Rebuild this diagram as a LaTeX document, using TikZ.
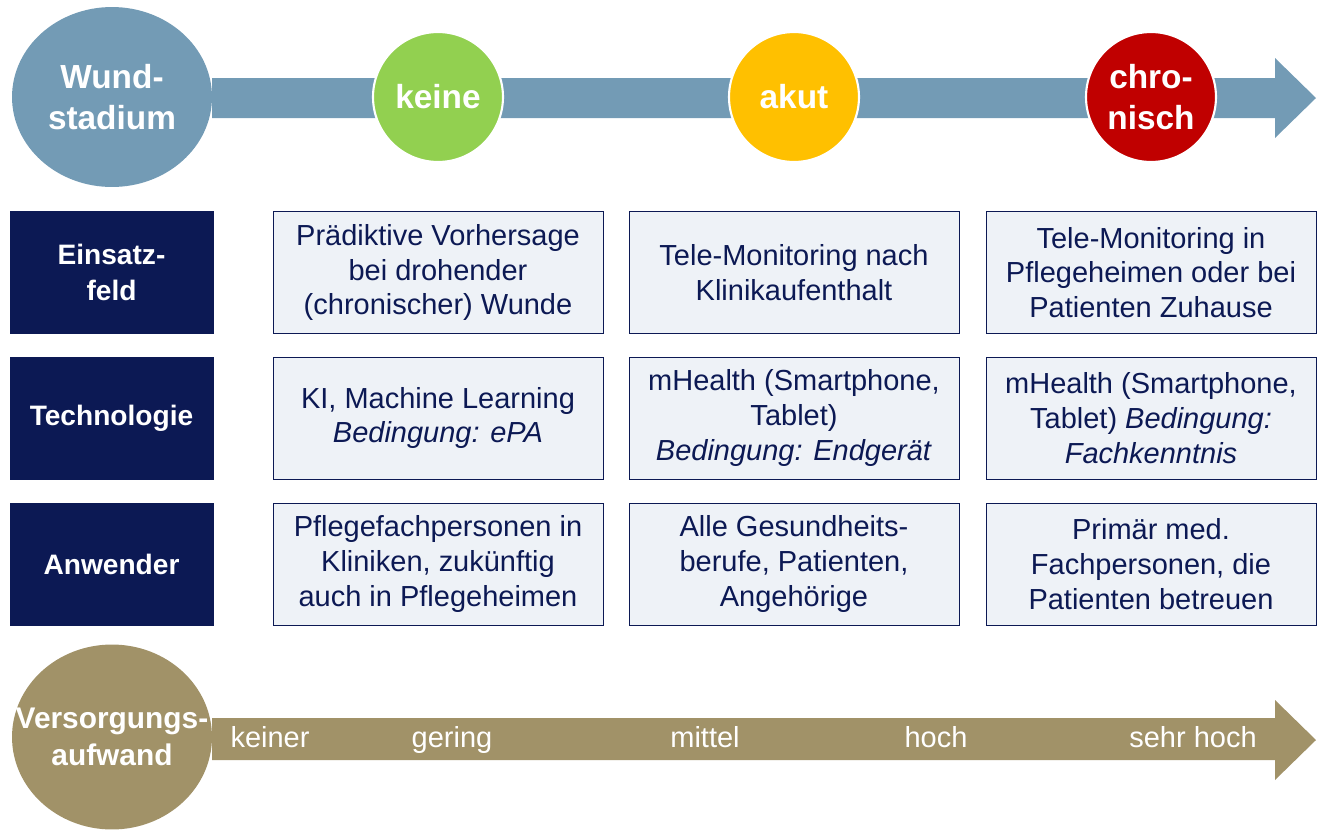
\documentclass[tikz,border=0pt]{standalone}
\usepackage{fontspec}
\setmainfont{Liberation Sans}
\usetikzlibrary{shapes.geometric}
\definecolor{stadium}{RGB}{115,155,181}
\definecolor{navy}{RGB}{12,25,84}
\definecolor{boxfill}{RGB}{238,242,247}
\definecolor{aufwand}{RGB}{161,146,104}
\definecolor{gruen}{RGB}{146,208,80}
\definecolor{gelb}{RGB}{255,192,0}
\definecolor{rot}{RGB}{192,0,0}
\tikzset{
  stage/.style={circle,draw=white,line width=1.2pt,minimum size=2.6cm,text=white,font=\fontsize{19}{23}\selectfont\bfseries,align=center,inner sep=0pt},
  rowhead/.style={draw=navy,fill=navy,minimum width=4.06cm,minimum height=2.44cm,text=white,font=\fontsize{16}{20}\selectfont\bfseries,align=center},
  cell/.style={draw=navy,fill=boxfill,minimum width=6.6cm,minimum height=2.44cm,text=navy,font=\fontsize{16.5}{19.8}\selectfont,align=center,inner sep=1pt},
  level/.style={text=white,font=\fontsize{16.5}{20}\selectfont,text height=1.5ex,text depth=0.3ex},
}
\begin{document}
\begin{tikzpicture}[x=0.02cm,y=-0.02cm]
\useasboundingbox (0,0) rectangle (1323,833);
% Zeitachse oben
\fill[stadium] (212,78) -- (1275,78) -- (1275,58) -- (1316,98) -- (1275,138) -- (1275,118) -- (212,118) -- cycle;
\node[ellipse,fill=stadium,minimum width=4cm,minimum height=3.6cm,inner xsep=-15pt,text=white,font=\fontsize{19}{23}\selectfont\bfseries,align=center] (stadium) at (112,97) {Wund-\\stadium};
\node[stage,fill=gruen] (keine) at (438,97) {keine};
\node[stage,fill=gelb] (akut) at (794,97) {akut};
\node[stage,fill=rot] (chron) at (1151,97) {chro-\\nisch};
% Zeilen
\node[rowhead] (einsatz) at (111.5,272.5) {Einsatz-\\feld};
\node[rowhead] (technik) at (111.5,418) {Technologie};
\node[rowhead] (anwender) at (111.5,564) {Anwender};
\node[cell] (e1) at (438,272.5) {Prädiktive Vorhersage\\bei drohender\\(chronischer) Wunde};
\node[cell] (e2) at (794,272.5) {Tele-Monitoring nach\\Klinikaufenthalt};
\node[cell] (e3) at (1151,272.5) {Tele-Monitoring in\\Pflegeheimen oder bei\\Patienten Zuhause};
\node[cell] (t1) at (438,418) {KI, Machine Learning\\\textit{Bedingung: ePA}};
\node[cell] (t2) at (794,418) {mHealth (Smartphone,\\Tablet)\\\textit{Bedingung: Endgerät}};
\node[cell] (t3) at (1151,418) {mHealth (Smartphone,\\Tablet) \textit{Bedingung:}\\\textit{Fachkenntnis}};
\node[cell] (a1) at (438,564) {Pflegefachpersonen in\\Kliniken, zukünftig\\auch in Pflegeheimen};
\node[cell] (a2) at (794,564) {Alle Gesundheits-\\berufe, Patienten,\\Angehörige};
\node[cell] (a3) at (1151,564) {Primär med.\\Fachpersonen, die\\Patienten betreuen};
% Versorgungsaufwand
\fill[aufwand] (212,718) -- (1275,718) -- (1275,700) -- (1316,740) -- (1275,780) -- (1275,760) -- (212,760) -- cycle;
\node[ellipse,fill=aufwand,minimum width=4cm,minimum height=3.7cm,inner xsep=-40pt,inner ysep=0pt,text=white,font=\fontsize{17}{21}\selectfont\bfseries,align=center] (aufw) at (112,737) {Versorgungs-\\aufwand};
\foreach \x/\t in {270/keiner,452/gering,705/mittel,936/hoch,1193/sehr hoch}
  \node[level] at (\x,742) {\t};
\end{tikzpicture}
\end{document}
